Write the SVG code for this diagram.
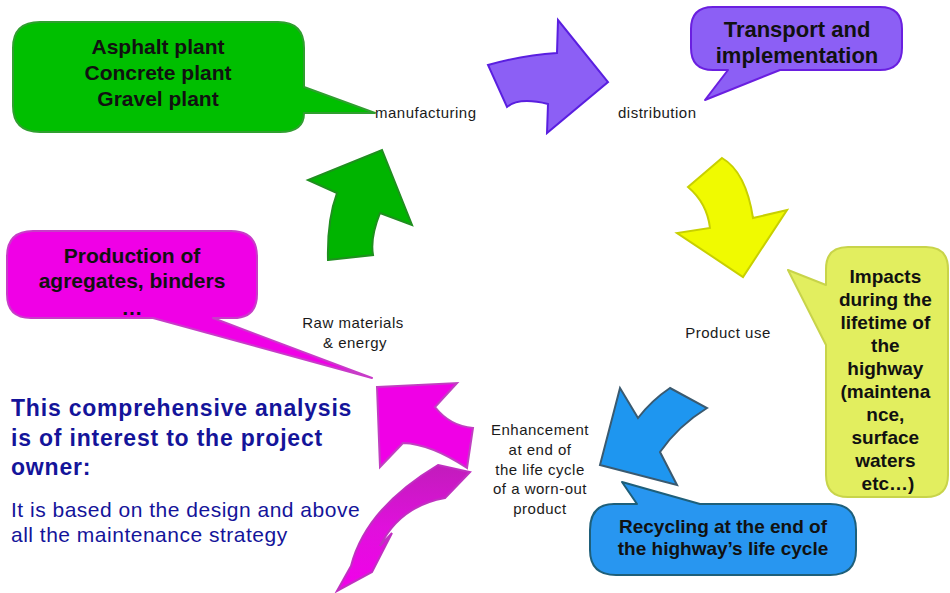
<svg xmlns="http://www.w3.org/2000/svg" width="950" height="593" viewBox="0 0 950 593">
<defs>
<linearGradient id="magGrad" x1="0" y1="0" x2="0" y2="1">
<stop offset="0" stop-color="#c21cbc"/>
<stop offset="0.5" stop-color="#e010dc"/>
<stop offset="1" stop-color="#f200ea"/>
</linearGradient>
</defs>
<style>
.ct{font-family:"Liberation Sans",Arial,sans-serif;font-weight:bold;fill:#111;text-anchor:middle}
.lbl{font-family:"Liberation Sans",Arial,sans-serif;font-size:15px;letter-spacing:0.5px;fill:#1a1a1a}
.mid{text-anchor:middle}
.co{stroke-width:2;stroke-linejoin:round}
.ar{stroke-width:2;stroke-linejoin:miter}
.blue{font-family:"Liberation Sans",Arial,sans-serif;fill:#14149a}
</style>
<rect width="950" height="593" fill="#ffffff"/>

<g id="connectors">
<path class="ar" d="M328,260 L373,255 Q370,238 380,213 L412,225 L382,150 L308,180 L337,193 Q327,220 328,260 Z" fill="#00b400" stroke="#1f8f1f"/>
<path class="ar" d="M488,65 Q523,55 557,53 L558,20 L608,82 L547,133 L548,104 Q519,97 507,107 Z" fill="#8c5ff5" stroke="#5a1fe0"/>
<path class="ar" d="M688,187 L722,158 Q746,172 753,218 L787,210 L743,277 L677,233 L710,228 Q707,203 688,187 Z" fill="#f0fa00" stroke="#c8d000"/>
<path class="ar" d="M670,388 L707,408 Q678,426 660,452 L677,485 L600,465 L620,388 L638,418 Q652,400 670,388 Z" fill="#1e96f0" stroke="#3a5a70"/>
<path class="ar" d="M377,387 L457,383 L435,407 Q450,426 473,428 L467,468 Q431,444 403,443 L380,467 Z" fill="#f000e6" stroke="#c040c0"/>
<path class="ar" d="M438,465 L470,472 L445,498 Q400,506 380,546 L392,533 L372,572 L337,591 L351,566 Q366,508 438,465 Z" fill="url(#magGrad)" stroke="#c030c0" stroke-width="1.5"/>
</g>

<g id="callout-plants">
<path class="co" d="M40,22 H278 Q304,22 304,48 V87 L375,113 L304,113 Q304,132 280,132 H40 Q13,132 13,106 V48 Q13,22 40,22 Z" fill="#00bf00" stroke="#2f9f2f"/>
<text class="ct" font-size="21" x="158" y="54">Asphalt plant</text>
<text class="ct" font-size="21" x="158" y="80">Concrete plant</text>
<text class="ct" font-size="21" x="158" y="106">Gravel plant</text>
</g>

<g id="callout-transport">
<path class="co" d="M713,7 H880 Q902,7 902,29 V48 Q902,70 880,70 H780 L705,100 L728,70 H713 Q691,70 691,48 V29 Q691,7 713,7 Z" fill="#8c5ff5" stroke="#6a1fe0"/>
<text class="ct" font-size="22" x="797" y="37">Transport and</text>
<text class="ct" font-size="22" x="797" y="63">implementation</text>
</g>

<g id="callout-impacts">
<path class="co" d="M848,247 H926 Q948,247 948,269 V475 Q948,497 926,497 H848 Q826,497 826,475 V345 L788,270 L826,285 V269 Q826,247 848,247 Z" fill="#e2ee5f" stroke="#c8d44a"/>
<text class="ct" font-size="19" x="888">
<tspan x="888" y="283">Impacts</tspan>
<tspan x="888" y="306">during the</tspan>
<tspan x="888" y="329">lifetime of</tspan>
<tspan x="888" y="352">the</tspan>
<tspan x="888" y="375">highway</tspan>
<tspan x="888" y="398">(maintena</tspan>
<tspan x="888" y="421">nce,</tspan>
<tspan x="888" y="444">surface</tspan>
<tspan x="888" y="467">waters</tspan>
<tspan x="888" y="490">etc…)</tspan>
</text>
</g>

<g id="callout-recycling">
<path class="co" d="M614,504 H637 L622,482 L700,504 H830 Q856,504 856,530 V550 Q856,575 830,575 H616 Q590,575 590,550 V530 Q590,504 614,504 Z" fill="#2896f0" stroke="#1e5f7a"/>
<text class="ct" font-size="19" x="723" y="533">Recycling at the end of</text>
<text class="ct" font-size="19" x="723" y="555">the highway’s life cycle</text>
</g>

<g id="callout-production">
<path class="co" d="M33,231 H231 Q257,231 257,257 V294 Q257,318 233,318 H213 L372,378 L153,318 H31 Q7,318 7,294 V257 Q7,231 33,231 Z" fill="#f000e6" stroke="#c83cc8"/>
<text class="ct" font-size="21" x="132" y="263">Production of</text>
<text class="ct" font-size="21" x="132" y="288">agregates, binders</text>
<text class="ct" font-size="21" x="132" y="315">…</text>
</g>

<g id="step-manufacturing">
<text class="lbl" x="375" y="118">manufacturing</text>
</g>
<g id="step-distribution">
<text class="lbl" x="618" y="118">distribution</text>
</g>
<g id="step-product-use">
<text class="lbl mid" x="728" y="338">Product use</text>
</g>
<g id="step-raw-materials">
<text class="lbl mid" x="353" y="328">Raw materials</text>
<text class="lbl mid" x="355" y="348">&amp; energy</text>
</g>
<g id="step-enhancement">
<text class="lbl mid" x="540" y="435">Enhancement</text>
<text class="lbl mid" x="540" y="455">at end of</text>
<text class="lbl mid" x="540" y="475">the life cycle</text>
<text class="lbl mid" x="540" y="494">of a worn-out</text>
<text class="lbl mid" x="540" y="514">product</text>
</g>

<g id="note">
<text class="blue" font-size="23" font-weight="bold" letter-spacing="0.8" x="11" y="416">This comprehensive analysis</text>
<text class="blue" font-size="23" font-weight="bold" letter-spacing="0.8" x="11" y="446">is of interest to the project</text>
<text class="blue" font-size="23" font-weight="bold" letter-spacing="0.8" x="11" y="475">owner:</text>
<text class="blue" font-size="21" letter-spacing="0.5" x="11" y="517">It is based on the design and above</text>
<text class="blue" font-size="21" letter-spacing="0.5" x="11" y="542">all the maintenance strategy</text>
</g>
</svg>
